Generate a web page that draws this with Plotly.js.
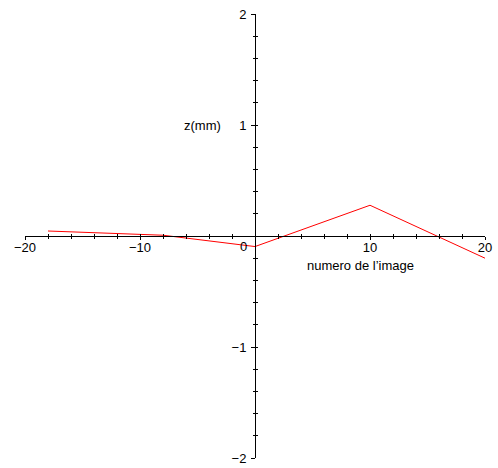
<!DOCTYPE html>
<html>
<head>
<meta charset="utf-8">
<script src="https://cdn.plot.ly/plotly-3.0.1.min.js"></script>
<style>html,body{margin:0;padding:0;background:#fff;}#chart{width:498px;height:468px;}</style>
</head>
<body>
<div id="chart"></div>
<script>
// Data
const imageNumber = [-18, -8, 0, 10, 20];
const zMM = [0.045, 0.007, -0.095, 0.277, -0.2];

const xTickVals = [-20, -10, 0, 10, 20];
const xTickText = ['\u221220', '\u221210', '', '10', '20'];
const yTickVals = [-2, -1, 1, 2];
const yTickText = ['\u22122', '\u22121', '1', '2'];

const xLabel = 'numero de l\u2019image';
const yLabel = 'z(mm)';

const font = {family: 'Liberation Sans, Arial, sans-serif', size: 13, color: '#000'};

const baseX = {
  range: [-20, 20], anchor: 'free', position: 0.5, showgrid: false, zeroline: false,
  showline: true, linecolor: '#000', linewidth: 1, tickcolor: '#000', tickwidth: 1,
  tickmode: 'array', fixedrange: true
};
const baseY = {
  range: [-2, 2], anchor: 'free', position: 0.5, showgrid: false, zeroline: false,
  showline: true, linecolor: '#000', linewidth: 1, tickcolor: '#000', tickwidth: 1,
  tickmode: 'array', fixedrange: true
};

const layout = {
  width: 498, height: 468,
  margin: {l: 25, r: 13, t: 14, b: 10},
  paper_bgcolor: '#fff', plot_bgcolor: 'rgba(0,0,0,0)',
  showlegend: false,
  font: font,
  xaxis: Object.assign({}, baseX, {
    tickvals: xTickVals, ticktext: xTickText,
    ticks: 'outside', ticklen: 3,
    minor: {tickmode: 'linear', tick0: 0, dtick: 2, ticks: 'outside', ticklen: 2, tickcolor: '#000', tickwidth: 1},
    tickfont: font, ticklabelstandoff: -4
  }),
  xaxis2: Object.assign({}, baseX, {
    overlaying: 'x', tickvals: xTickVals, ticktext: ['', '', '', '', ''],
    ticks: 'inside', ticklen: 3, showticklabels: false,
    minor: {tickmode: 'linear', tick0: 0, dtick: 2, ticks: 'inside', ticklen: 2, tickcolor: '#000', tickwidth: 1}
  }),
  yaxis: Object.assign({}, baseY, {
    tickvals: yTickVals, ticktext: yTickText,
    ticks: 'outside', ticklen: 4,
    minor: {tickmode: 'linear', tick0: 0, dtick: 0.2, ticks: 'outside', ticklen: 2, tickcolor: '#000', tickwidth: 1},
    tickfont: font, ticklabelstandoff: 2
  }),
  yaxis2: Object.assign({}, baseY, {
    overlaying: 'y', tickvals: yTickVals, ticktext: ['', '', '', ''],
    ticks: 'inside', ticklen: 4, showticklabels: false,
    minor: {tickmode: 'linear', tick0: 0, dtick: 0.2, ticks: 'inside', ticklen: 2, tickcolor: '#000', tickwidth: 1}
  }),
  annotations: [
    {text: '0', x: -1, y: 0, xref: 'x', yref: 'y', xanchor: 'center', yanchor: 'top', yshift: -1, showarrow: false, font: font},
    {text: xLabel, x: 10, y: 0, xref: 'x', yref: 'y', xanchor: 'center', yanchor: 'top', xshift: -10, yshift: -20, showarrow: false, font: font},
    {text: yLabel, x: 0, y: 1, xref: 'x', yref: 'y', xanchor: 'right', yanchor: 'middle', xshift: -32, showarrow: false, font: font}
  ]
};

const traces = [
  {x: imageNumber, y: zMM, type: 'scatter', mode: 'lines', line: {color: 'rgba(0,0,0,0)', width: 1}, xaxis: 'x2', yaxis: 'y2', hoverinfo: 'none'},
  {x: imageNumber, y: zMM, type: 'scatter', mode: 'lines', line: {color: '#ff0000', width: 1}, xaxis: 'x', yaxis: 'y', hoverinfo: 'none'}
];

Plotly.newPlot('chart', traces, layout, {displayModeBar: false, staticPlot: true});
</script>
</body>
</html>
